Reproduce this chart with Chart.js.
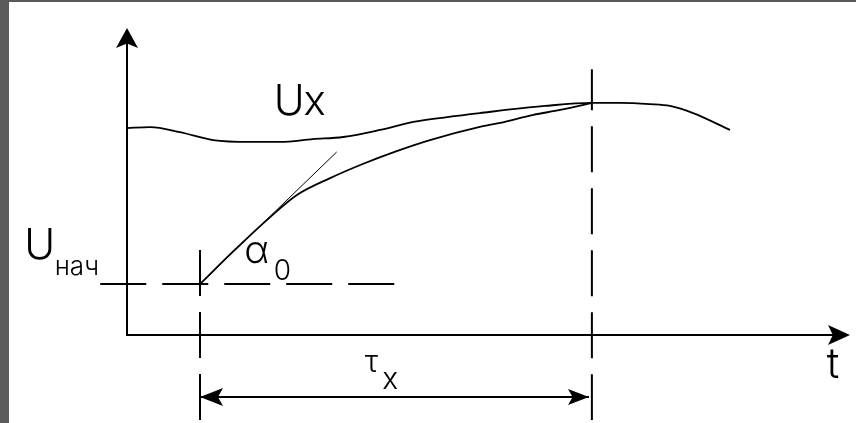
<!DOCTYPE html>
<html>
<head>
<meta charset="utf-8">
<script src="https://cdn.jsdelivr.net/npm/chart.js@4.4.0/dist/chart.umd.min.js"></script>
<style>
  html, body { margin: 0; padding: 0; background: #5a5a5a; width: 856px; height: 423px; overflow: hidden; }
  #wrap { position: absolute; left: 9px; top: 2px; width: 847px; height: 421px; background: #fff; }
</style>
</head>
<body>
<div id="wrap"><canvas id="chart" width="847" height="421"></canvas></div>
<script>
// measured signal Ux(t)
const uxT = [0, 3.2, 7.3, 11.9, 17.0, 21.2, 25.7, 29.9, 35.0, 39.6, 44.3, 48.8, 57.8, 64.3, 68.2, 72.3, 75.1, 78.3, 83.4];
const uxU = [67.4, 67.7, 66.1, 63.5, 62.9, 62.9, 63.8, 64.5, 66.8, 69.4, 71.0, 72.3, 74.6, 75.6, 75.6, 75.2, 74.6, 72.3, 66.8];

// charging curve from Uнач up to Ux
const chargeT = [10.1, 14.9, 19.8, 23.5, 28.1, 32.6, 37.3, 41.9, 48.8, 51.6, 56.2, 59.9, 64.3];
const chargeU = [16.6, 27.7, 38.4, 45.6, 51.1, 55.7, 59.9, 63.5, 67.8, 69.1, 71.7, 73.3, 75.6];

// tangent at the start (angle alpha0)
const tangentT = [10.1, 29.0];
const tangentU = [16.6, 59.6];

const uStart = 16.6;  // Uнач
const tStart = 10.1;  // start of tau_x
const tEnd = 64.3;    // end of tau_x

const pts = (xs, ys) => xs.map((x, i) => ({ x: x, y: ys[i] }));

const line = (data, extra) => Object.assign({
  data: data,
  borderColor: "#000",
  borderWidth: 1.8,
  pointRadius: 0,
  fill: false,
  clip: false,
}, extra);

const FONT = "'Inter', 'Liberation Sans', sans-serif";

const drawExtras = {
  id: "drawExtras",
  afterDatasetsDraw(chart) {
    const ctx = chart.ctx;
    const xs = chart.scales.x;
    const ys = chart.scales.y;
    const X = (v) => xs.getPixelForValue(v);
    const Y = (v) => ys.getPixelForValue(v);

    ctx.save();
    ctx.strokeStyle = "#000";
    ctx.fillStyle = "#000";

    // axes
    const x0 = Math.round(X(0)), y0 = Math.round(Y(0));
    ctx.lineWidth = 2;
    ctx.beginPath();
    ctx.moveTo(x0, Y(100) + 10);
    ctx.lineTo(x0, y0);
    ctx.lineTo(X(100) - 10, y0);
    ctx.stroke();

    function arrow(tx, ty, dx, dy, len, half) {
      const bx = tx - dx * len, by = ty - dy * len;
      const nx = tx - dx * len * 0.78, ny = ty - dy * len * 0.78;
      ctx.beginPath();
      ctx.moveTo(tx, ty);
      ctx.lineTo(bx - dy * half, by + dx * half);
      ctx.lineTo(nx, ny);
      ctx.lineTo(bx + dy * half, by - dx * half);
      ctx.closePath();
      ctx.fill();
    }
    arrow(x0, Y(100), 0, -1, 20, 11);
    arrow(X(100), y0, 1, 0, 22, 10);

    // tau_x double arrow heads
    const ay = Y(-20.2);
    arrow(X(tStart), ay, -1, 0, 23, 9);
    arrow(X(63.9), ay, 1, 0, 21, 8);

    // labels
    function label(str, t, u, size) {
      ctx.font = "300 " + size + "px " + FONT;
      ctx.textBaseline = "alphabetic";
      ctx.textAlign = "left";
      ctx.fillText(str, X(t), Y(u));
    }
    label("U", 20.3, 71.7, 42);
    label("x", 24.4, 71.7, 42);
    label("U", -14.2, 24.8, 42);
    label("нач", -10.0, 19.5, 26);
    label("α", 16.2, 23.5, 38);
    label("0", 20.3, 17.9, 28);
    label("τ", 32.9, -12.1, 30);
    label("x", 35.3, -17.6, 30);
    label("t", 96.8, -14.0, 42);
    ctx.restore();
  }
};

new Chart(document.getElementById("chart"), {
  type: "line",
  data: {
    datasets: [
      line(pts(uxT, uxU), { cubicInterpolationMode: "monotone" }),
      line(pts(chargeT, chargeU), { cubicInterpolationMode: "monotone" }),
      line(pts(tangentT, tangentU), { borderWidth: 1 }),
      line([{ x: -3.7, y: uStart }, { x: 37.1, y: uStart }], { borderWidth: 2, borderDash: [46, 16] }),
      line([{ x: tStart, y: 27.7 }, { x: tStart, y: -27.7 }], { borderWidth: 2, borderDash: [46, 16] }),
      line([{ x: tEnd, y: 86.6 }, { x: tEnd, y: -27.7 }], { borderWidth: 2, borderDash: [46, 16], borderDashOffset: 5 }),
      line([{ x: tStart, y: -20.2 }, { x: 63.9, y: -20.2 }], { borderWidth: 2 }),
    ],
  },
  options: {
    responsive: false,
    animation: false,
    layout: { padding: { left: 118, right: 6, top: 26, bottom: 88 } },
    plugins: { legend: { display: false }, tooltip: { enabled: false } },
    scales: {
      x: { type: "linear", min: 0, max: 100, display: false },
      y: { type: "linear", min: 0, max: 100, display: false },
    },
  },
  plugins: [drawExtras],
});
</script>
</body>
</html>
